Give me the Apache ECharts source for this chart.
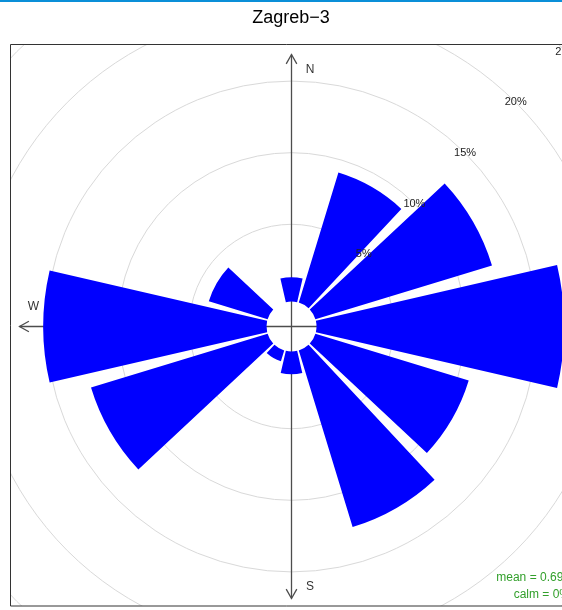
<!DOCTYPE html>
<html><head><meta charset="utf-8">
<script src="https://cdn.jsdelivr.net/npm/echarts@6/dist/echarts.min.js"></script>
<style>html,body{margin:0;padding:0;overflow:hidden;background:#fff}#c{width:562px;height:610px}</style>
</head><body><div id="c"></div>
<script>
// ---- data ----
const directions = ['N', '30', '60', 'E', '120', '150', 'S', '210', '240', 'W', '300', '330'];
const frequencies = [1.3, 9.1, 12.5, 16.9, 10.8, 12.5, 1.2, 0.4, 12.5, 15.2, 3.9, 0];
const ringTicks = [0, 5, 10, 15, 20, 25];
const titleText = 'Zagreb\u22123';
const meanText = 'mean = 0.698';
const calmText = 'calm = 0%';
const compassLabels = ['N', 'W', 'S'];

// ---- layout ----
const CX = 291.5, CY = 326.5;
const HOLE = 25, ZERO_R = 30.6, OUTER = 388.6;
const RMAX = ringTicks[ringTicks.length - 1];
const START_V = -(ZERO_R - HOLE) * RMAX / (OUTER - ZERO_R);
const ARM = 272;
const FONT = '"Liberation Sans", Arial, Helvetica, sans-serif';

const chart = echarts.init(document.getElementById('c'), null, {renderer: 'canvas'});

const hiddenAngle = (pi, extra) => Object.assign({
  polarIndex: pi, axisLine: {show: false}, axisTick: {show: false},
  axisLabel: {show: false}, splitLine: {show: false}, splitArea: {show: false}
}, extra || {});

const ringColors = ringTicks.map((t, i) => i === 0 ? 'rgba(0,0,0,0)' : '#d9d9d9');

// decorations: compass arms
const lineStyle = {stroke: '#4d4d4d', lineWidth: 1.3};
const g = [];
g.push({type: 'line', z: 1, shape: {x1: CX, y1: CY - ARM, x2: CX, y2: CY + ARM}, style: lineStyle});
g.push({type: 'line', z: 1, shape: {x1: CX - ARM, y1: CY, x2: CX + ARM, y2: CY}, style: lineStyle});
const ah = 9.4, aw = 5.3;
g.push({type: 'polyline', z: 1, shape: {points: [[CX - aw, CY - ARM + ah], [CX, CY - ARM], [CX + aw, CY - ARM + ah]]}, style: Object.assign({fill: null}, lineStyle)});
g.push({type: 'polyline', z: 1, shape: {points: [[CX - aw, CY + ARM - ah], [CX, CY + ARM], [CX + aw, CY + ARM - ah]]}, style: Object.assign({fill: null}, lineStyle)});
g.push({type: 'polyline', z: 1, shape: {points: [[CX - ARM + ah, CY - aw], [CX - ARM, CY], [CX - ARM + ah, CY + aw]]}, style: Object.assign({fill: null}, lineStyle)});
g.push({type: 'polyline', z: 1, shape: {points: [[CX + ARM - ah, CY - aw], [CX + ARM, CY], [CX + ARM - ah, CY + aw]]}, style: Object.assign({fill: null}, lineStyle)});
const compassPos = {N: [CX + 18.5, CY - ARM + 15], W: [CX - ARM + 14, CY - 20], S: [CX + 18.5, CY + ARM - 12]};
compassLabels.forEach(k => g.push({type: 'text', z: 1, x: compassPos[k][0], y: compassPos[k][1],
  style: {text: k, fill: '#333', font: '12px ' + FONT, textAlign: 'center', textVerticalAlign: 'middle'}}));

// masks outside the panel
g.push({type: 'rect', z: 100, shape: {x: 0, y: 0, width: 562, height: 44.5}, style: {fill: '#fff'}});
g.push({type: 'rect', z: 100, shape: {x: 0, y: 0, width: 10.5, height: 610}, style: {fill: '#fff'}});
g.push({type: 'rect', z: 100, shape: {x: 0, y: 606, width: 562, height: 4}, style: {fill: '#fff'}});
// panel frame
g.push({type: 'rect', z: 101, shape: {x: 10.5, y: 44.5, width: 562, height: 561.5}, style: {fill: null, stroke: '#333', lineWidth: 1}});
// top blue strip
g.push({type: 'rect', z: 101, shape: {x: 0, y: 0, width: 562, height: 2}, style: {fill: '#0a8fd8'}});
// title
g.push({type: 'text', z: 102, x: 291, y: 18, style: {text: titleText, fill: '#000', font: '18px ' + FONT, textAlign: 'center', textVerticalAlign: 'middle'}});
// stats
g.push({type: 'text', z: 102, x: 570, y: 578, style: {text: meanText, fill: '#33a02c', font: '12px ' + FONT, textAlign: 'right', textVerticalAlign: 'middle'}});
g.push({type: 'text', z: 102, x: 570, y: 595, style: {text: calmText, fill: '#33a02c', font: '12px ' + FONT, textAlign: 'right', textVerticalAlign: 'middle'}});

const option = {
  animation: false,
  backgroundColor: '#fff',
  polar: [
    {center: [CX, CY], radius: [ZERO_R, OUTER]},
    {center: [CX, CY], radius: [HOLE, OUTER]},
    {center: [CX, CY], radius: [ZERO_R, OUTER]}
  ],
  angleAxis: [
    hiddenAngle(0, {type: 'value', min: 0, max: 360, startAngle: 45}),
    hiddenAngle(1, {type: 'category', data: directions, startAngle: 90 + 15, clockwise: true, boundaryGap: true}),
    hiddenAngle(2, {type: 'value', min: 0, max: 360, startAngle: 45})
  ],
  radiusAxis: [
    {polarIndex: 0, type: 'value', min: 0, max: RMAX, interval: 5, z: 0,
      axisLine: {show: false}, axisTick: {show: false}, axisLabel: {show: false},
      splitLine: {show: true, lineStyle: {color: ringColors, width: 1}}},
    {polarIndex: 1, type: 'value', min: START_V, max: RMAX, startValue: START_V,
      axisLine: {show: false}, axisTick: {show: false}, axisLabel: {show: false}, splitLine: {show: false}},
    {polarIndex: 2, type: 'value', min: 0, max: RMAX, interval: 5, z: 10,
      axisLine: {show: false}, axisTick: {show: false}, splitLine: {show: false},
      axisLabel: {show: true, margin: 0, align: 'center', verticalAlign: 'middle', color: '#222',
        fontSize: 11, fontFamily: FONT, formatter: v => v === 0 ? '' : v + '%'}}
  ],
  series: [{
    type: 'bar', coordinateSystem: 'polar', polarIndex: 1,
    data: frequencies.map(v => v === 0 ? '-' : v),
    barCategoryGap: '13%',
    itemStyle: {color: '#0000ff'},
    z: 2
  }],
  graphic: {elements: g}
};
chart.setOption(option);
</script></body></html>
